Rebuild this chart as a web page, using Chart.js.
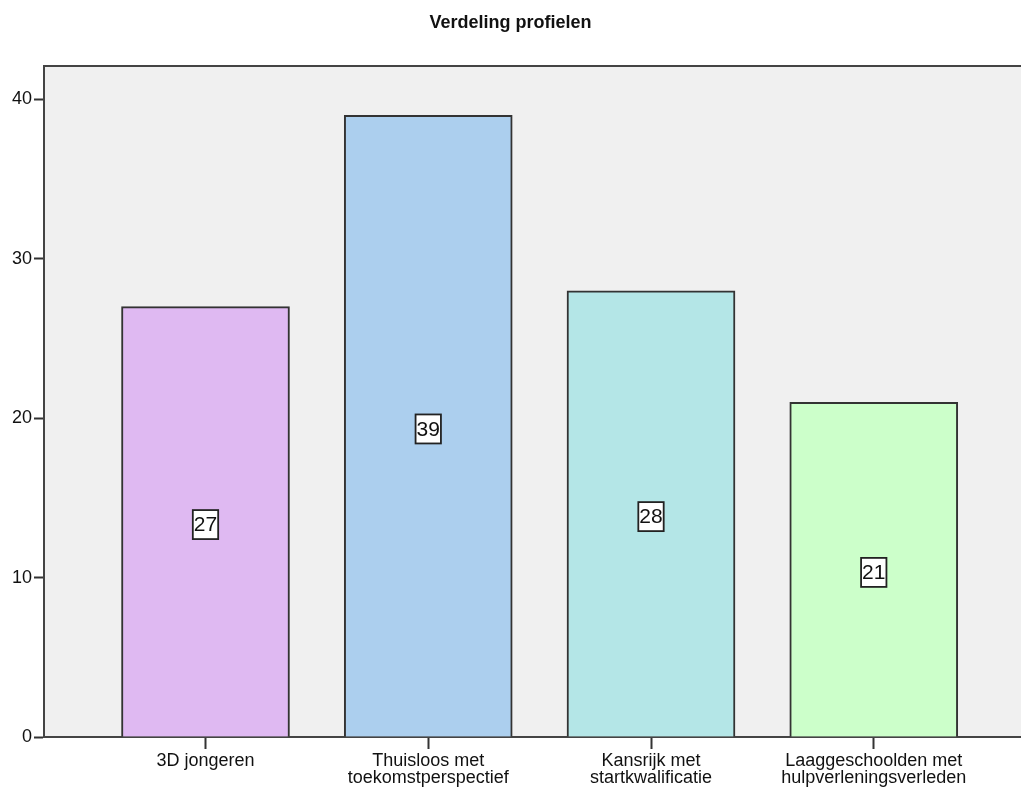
<!DOCTYPE html>
<html>
<head>
<meta charset="utf-8">
<script src="https://cdn.jsdelivr.net/npm/chart.js@4"></script>
<style>
  body { margin: 0; background: #fff; overflow: hidden; }
</style>
</head>
<body>
<canvas id="chart" width="1021" height="788"></canvas>
<script>
// Chart data
const categories = ['3D jongeren', 'Thuisloos met toekomstperspectief', 'Kansrijk met startkwalificatie', 'Laaggeschoolden met hulpverleningsverleden'];
const tickLabels = [['3D jongeren'], ['Thuisloos met', 'toekomstperspectief'], ['Kansrijk met', 'startkwalificatie'], ['Laaggeschoolden met', 'hulpverleningsverleden']];
const counts = [27, 39, 28, 21];
const yTicks = [0, 10, 20, 30, 40];
const barColors = ['#DFB9F2', '#ACCFEE', '#B4E6E7', '#CCFFCA'];

const FONT = "'Liberation Sans', Arial, sans-serif";

// Grey plot background plus top frame line
const plotBackground = {
  id: 'plotBackground',
  beforeDraw(chart) {
    const { ctx, chartArea: a } = chart;
    ctx.save();
    ctx.fillStyle = '#F0F0F0';
    ctx.fillRect(a.left, a.top, a.right - a.left, a.bottom - a.top);
    ctx.strokeStyle = '#444';
    ctx.lineWidth = 2;
    ctx.beginPath();
    ctx.moveTo(a.left, a.top);
    ctx.lineTo(a.right, a.top);
    ctx.stroke();
    ctx.restore();
  }
};

// Boxed value labels in the middle of each bar
const boxedLabels = {
  id: 'boxedLabels',
  afterDatasetsDraw(chart) {
    const { ctx } = chart;
    const meta = chart.getDatasetMeta(0);
    ctx.save();
    ctx.font = '21px ' + FONT;
    ctx.textAlign = 'center';
    ctx.textBaseline = 'middle';
    meta.data.forEach((bar, i) => {
      const text = String(counts[i]);
      const cy = (bar.y + bar.base) / 2 + 3;
      const w = ctx.measureText(text).width + 2;
      const h = 29;
      ctx.fillStyle = '#fff';
      ctx.fillRect(bar.x - w / 2, cy - h / 2, w, h);
      ctx.strokeStyle = '#222';
      ctx.lineWidth = 1.8;
      ctx.strokeRect(bar.x - w / 2, cy - h / 2, w, h);
      ctx.fillStyle = '#111';
      ctx.fillText(text, bar.x, cy + 1);
    });
    ctx.restore();
  }
};

new Chart(document.getElementById('chart'), {
  type: 'bar',
  data: {
    datasets: [{
      data: counts.map((v, i) => ({ x: i + 1, y: v })),
      backgroundColor: barColors,
      borderColor: '#333',
      borderWidth: 2,
      barThickness: 168
    }]
  },
  options: {
    responsive: false,
    animation: false,
    layout: { padding: 0 },
    plugins: {
      legend: { display: false },
      tooltip: { enabled: false },
      title: {
        display: true,
        text: 'Verdeling profielen',
        color: '#111',
        font: { family: FONT, size: 18, weight: 'bold', lineHeight: 1.2 },
        padding: { top: 12, bottom: 32.4 }
      }
    },
    scales: {
      x: {
        type: 'linear',
        offset: false,
        min: 0.275,
        max: 4.661,
        afterBuildTicks: scale => { scale.ticks = categories.map((c, i) => ({ value: i + 1 })); },
        afterFit: scale => { scale.height = 51; },
        ticks: {
          color: '#111',
          padding: 3,
          maxRotation: 0,
          autoSkip: false,
          font: { family: FONT, size: 18, lineHeight: 0.95 },
          callback: v => tickLabels[v - 1]
        },
        grid: { offset: false, drawOnChartArea: false, drawTicks: true, tickLength: 12, tickColor: '#333', tickWidth: 2 },
        border: { display: true, color: '#444', width: 2 }
      },
      y: {
        min: 0,
        max: 42.1,
        afterBuildTicks: scale => { scale.ticks = yTicks.map(v => ({ value: v })); },
        afterFit: scale => { scale.width = 44; },
        ticks: {
          color: '#111',
          padding: 2,
          font: { family: FONT, size: 18 }
        },
        grid: { drawOnChartArea: false, drawTicks: true, tickLength: 10, tickColor: '#333', tickWidth: 2 },
        border: { display: true, color: '#444', width: 2 }
      }
    }
  },
  plugins: [plotBackground, boxedLabels]
});
</script>
</body>
</html>
